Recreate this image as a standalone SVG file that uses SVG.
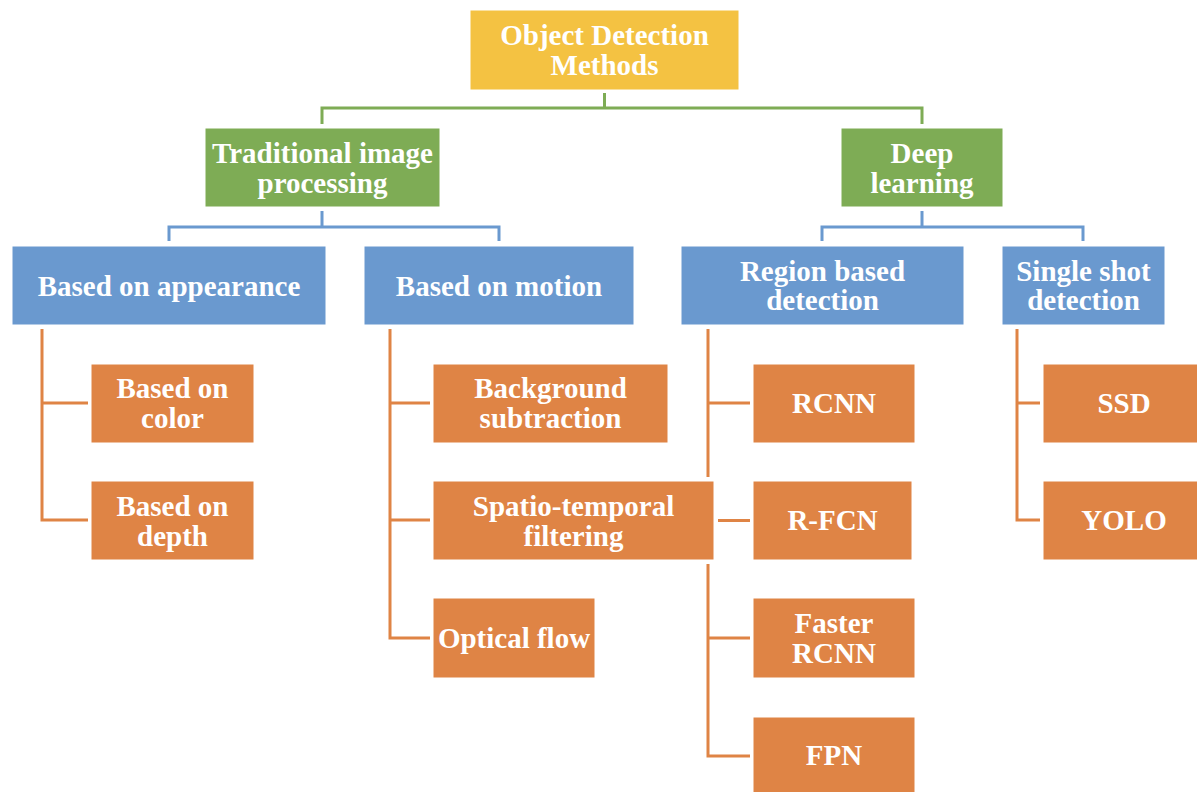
<svg xmlns="http://www.w3.org/2000/svg" width="1197" height="792" viewBox="0 0 1197 792">
<style>
.n{stroke:#ffffff;stroke-width:1}
.y{fill:#F4C242}
.g{fill:#7EAC55}
.b{fill:#6A99CF}
.o{fill:#DF8445}
.t{font-family:"Liberation Serif","Times New Roman",serif;font-weight:bold;font-size:29px;fill:#ffffff;text-anchor:middle}
.cg{stroke:#7EAC55;stroke-width:3;fill:none}
.cb{stroke:#6A99CF;stroke-width:3;fill:none}
.co{stroke:#DF8445;stroke-width:3;fill:none}
</style>
<rect width="1197" height="792" fill="#ffffff"/>
<g id="connectors">
<path class="cg" d="M604.5,93 V108 M322,124 V108 H922 V124"/>
<path class="cb" d="M322,211 V227 M169,241 V227 H499 V241"/>
<path class="cb" d="M922,211 V227 M822,241 V227 H1083 V241"/>
<path class="co" d="M88,403 H42 V329 M42,403 V520 H88"/>
<path class="co" d="M430,403 H390 V329 M390,403 V638 H430 M390,520 H430"/>
<path class="co" d="M750,403 H708 V329 M708,403 V477 M708,564 V756 H750 M708,638 H750 M718,520.5 H750"/>
<path class="co" d="M1040,403 H1017 V329 M1017,403 V520 H1040"/>
</g>
<g id="n-root"><rect class="n y" x="470" y="10" width="269" height="80"/><text class="t" x="604.5" y="45">Object Detection</text><text class="t" x="604.5" y="75">Methods</text></g>
<g id="n-trad"><rect class="n g" x="205" y="128" width="235" height="79"/><text class="t" x="322.5" y="163">Traditional image</text><text class="t" x="322.5" y="193">processing</text></g>
<g id="n-deep"><rect class="n g" x="841" y="128" width="162" height="79"/><text class="t" x="922" y="163">Deep</text><text class="t" x="922" y="193">learning</text></g>
<g id="n-appearance"><rect class="n b" x="12" y="246" width="314" height="79"/><text class="t" x="169" y="296">Based on appearance</text></g>
<g id="n-motion"><rect class="n b" x="364" y="246" width="270" height="79"/><text class="t" x="499" y="296">Based on motion</text></g>
<g id="n-region"><rect class="n b" x="681" y="246" width="283" height="79"/><text class="t" x="822.5" y="281">Region based</text><text class="t" x="822.5" y="310">detection</text></g>
<g id="n-single"><rect class="n b" x="1002" y="246" width="163" height="79"/><text class="t" x="1083.5" y="281">Single shot</text><text class="t" x="1083.5" y="310">detection</text></g>
<g id="n-color"><rect class="n o" x="91" y="364" width="163" height="79"/><text class="t" x="172.5" y="398">Based on</text><text class="t" x="172.5" y="428">color</text></g>
<g id="n-depth"><rect class="n o" x="91" y="481" width="163" height="79"/><text class="t" x="172.5" y="516">Based on</text><text class="t" x="172.5" y="546">depth</text></g>
<g id="n-background"><rect class="n o" x="433" y="364" width="235" height="79"/><text class="t" x="550.5" y="398">Background</text><text class="t" x="550.5" y="428">subtraction</text></g>
<g id="n-spatio"><rect class="n o" x="433" y="481" width="281" height="79"/><text class="t" x="573.5" y="516">Spatio-temporal</text><text class="t" x="573.5" y="546">filtering</text></g>
<g id="n-optical"><rect class="n o" x="433" y="598" width="162" height="80"/><text class="t" x="514" y="648">Optical flow</text></g>
<g id="n-rcnn"><rect class="n o" x="753" y="364" width="162" height="79"/><text class="t" x="834" y="413">RCNN</text></g>
<g id="n-rfcn"><rect class="n o" x="753" y="481" width="159" height="79"/><text class="t" x="832.5" y="530">R-FCN</text></g>
<g id="n-faster"><rect class="n o" x="753" y="598" width="162" height="80"/><text class="t" x="834" y="633">Faster</text><text class="t" x="834" y="663">RCNN</text></g>
<g id="n-fpn"><rect class="n o" x="753" y="717" width="162" height="80"/><text class="t" x="834" y="765">FPN</text></g>
<g id="n-ssd"><rect class="n o" x="1043" y="364" width="160" height="79"/><text class="t" x="1124" y="413">SSD</text></g>
<g id="n-yolo"><rect class="n o" x="1043" y="481" width="160" height="79"/><text class="t" x="1124" y="530">YOLO</text></g>
</svg>
